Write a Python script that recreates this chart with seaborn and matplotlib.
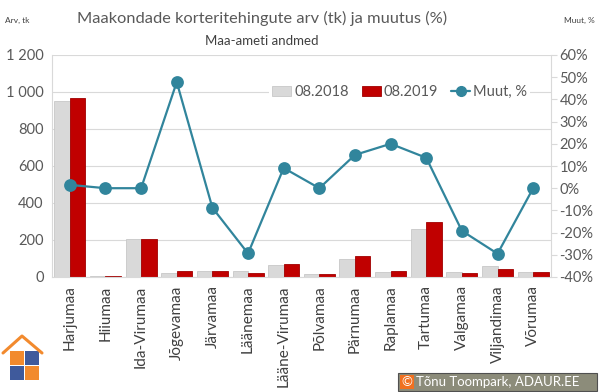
import numpy as np
import pandas as pd
import matplotlib.pyplot as plt
import matplotlib.patches as mpatches
from matplotlib.lines import Line2D
from matplotlib.ticker import FuncFormatter
import seaborn as sns

sns.set_style("white")
plt.rcParams["font.family"] = ["Lato", "DejaVu Sans"]
plt.rcParams["axes.unicode_minus"] = False

maakonnad = ["Harjumaa", "Hiiumaa", "Ida-Virumaa", "Jõgevamaa", "Järvamaa",
             "Läänemaa", "Lääne-Virumaa", "Põlvamaa", "Pärnumaa", "Raplamaa",
             "Tartumaa", "Valgamaa", "Viljandimaa", "Võrumaa"]
arv_2018 = [953, 3, 205, 23, 34, 34, 66, 16, 100, 25, 262, 26, 61, 29]
arv_2019 = [967, 3, 205, 34, 31, 24, 72, 16, 115, 30, 298, 21, 43, 29]
muut = [1.5, 0, 0, 47.8, -8.8, -29.4, 9.1, 0, 15.0, 20.0, 13.7, -19.2, -29.5, 0]

perioodid = ["08.2018", "08.2019"]
varvid = {"08.2018": "#D9D9D9", "08.2019": "#C00000"}
joon = "#31859C"
tekst = "#595959"
grid = "#D9D9D9"

df = pd.DataFrame({
    "maakond": maakonnad * 2,
    "periood": [perioodid[0]] * len(maakonnad) + [perioodid[1]] * len(maakonnad),
    "arv": arv_2018 + arv_2019,
})

fig = plt.figure(figsize=(6, 3.92), dpi=100)
ax = fig.add_axes([52 / 600, 1 - 277 / 392, (551 - 52) / 600, (277 - 55) / 392])

sns.barplot(data=df, x="maakond", y="arv", hue="periood", order=maakonnad,
            hue_order=perioodid, palette=varvid, width=0.87, gap=0,
            saturation=1, legend=False, ax=ax)
for p in ax.patches:
    p.set_linewidth(0.6)
    p.set_edgecolor("#C8C8C8" if p.get_facecolor()[1] > 0.5 else "#A00000")

ax.set_ylim(0, 1200)
ax.set_yticks(np.arange(0, 1201, 200))
ax.yaxis.set_major_formatter(FuncFormatter(lambda v, _: f"{int(v):,}".replace(",", " ")))
ax.yaxis.grid(True, color=grid, linewidth=0.8)
ax.set_axisbelow(True)
ax.set_xlabel("")
ax.set_ylabel("")
ax.set_xlim(-0.5, len(maakonnad) - 0.5)
ax.tick_params(axis="x", rotation=90, labelsize=11, colors="#404040", length=0, pad=6)
ax.tick_params(axis="y", labelsize=10.5, colors=tekst, length=0, pad=6)
ax.spines["top"].set_visible(False)
for s in ["left", "right", "bottom"]:
    ax.spines[s].set_color(grid)
    ax.spines[s].set_linewidth(0.8)

ax2 = ax.twinx()
sns.pointplot(x=maakonnad, y=muut, order=maakonnad, color=joon, markers="o",
              markersize=8, linewidth=1.6, ax=ax2)
ax2.set_ylim(-40, 60)
ax2.set_yticks(np.arange(-40, 61, 10))
ax2.yaxis.set_major_formatter(FuncFormatter(lambda v, _: f"{v:.0f}%"))
ax2.tick_params(axis="y", labelsize=10.5, colors=tekst, length=4, color=grid, pad=2)
ax2.set_xlim(-0.5, len(maakonnad) - 0.5)
for s in ax2.spines.values():
    s.set_visible(False)

handles = [mpatches.Patch(facecolor=varvid["08.2018"], edgecolor="#C8C8C8", linewidth=0.6),
           mpatches.Patch(facecolor=varvid["08.2019"], edgecolor="#A00000", linewidth=0.6),
           Line2D([0], [0], color=joon, marker="o", markersize=7, linewidth=1.6)]
leg = ax2.legend(handles, perioodid + ["Muut, %"], ncol=3, loc="center right",
                 bbox_to_anchor=(0.958, 0.833), frameon=True, framealpha=1,
                 edgecolor="none", facecolor="white", fontsize=10.5,
                 handlelength=1.3, handletextpad=0.2, columnspacing=0.9,
                 borderpad=0.2, borderaxespad=0)
for t in leg.get_texts():
    t.set_color(tekst)

fig.text(262 / 600, 1 - 18 / 392, "Maakondade korteritehingute arv (tk) ja muutus (%)",
         ha="center", va="center", fontsize=11.8, color=tekst)
fig.text(262 / 600, 1 - 41 / 392, "Maa-ameti andmed", ha="center", va="center",
         fontsize=9.5, color="#404040")
fig.text(5 / 600, 1 - 20 / 392, "Arv, tk", ha="left", va="center", fontsize=6, color="#404040")
fig.text(595 / 600, 1 - 20 / 392, "Muut, %", ha="right", va="center", fontsize=6, color="#404040")


def fr(x, y):
    return (x / 600, 1 - y / 392)


# logo (maja + pusle)
fig.lines.append(Line2D([3 / 600, 22 / 600, 42 / 600],
                        [1 - 353 / 392, 1 - 336 / 392, 1 - 353 / 392],
                        transform=fig.transFigure, color="#F28A2E", linewidth=2.2))
for (x0, y0, c) in [(10, 351, "#F28A2E"), (25, 351, "#3F5A9C"),
                    (10, 366, "#3F5A9C"), (25, 366, "#F28A2E")]:
    fig.patches.append(mpatches.Rectangle(fr(x0, y0 + 14), 14 / 600, 14 / 392,
                                          transform=fig.transFigure,
                                          facecolor=c, edgecolor="none"))

# copyright
fig.patches.append(mpatches.Rectangle(fr(398, 391), 199 / 600, 18 / 392,
                                      transform=fig.transFigure,
                                      facecolor="#8C8C7A", edgecolor="#505050", linewidth=0.8))
fig.patches.append(mpatches.Rectangle(fr(400, 389), 14 / 600, 14 / 392,
                                      transform=fig.transFigure,
                                      facecolor="#F07020", edgecolor="none"))
fig.text(407 / 600, 1 - 382 / 392, "©", ha="center", va="center", fontsize=9.5, color="white")
fig.text(416 / 600, 1 - 382 / 392, "Tõnu Toompark, ADAUR.EE", ha="left", va="center",
         fontsize=9.5, color="white")

fig.savefig("out.png", dpi=100, facecolor="white")
